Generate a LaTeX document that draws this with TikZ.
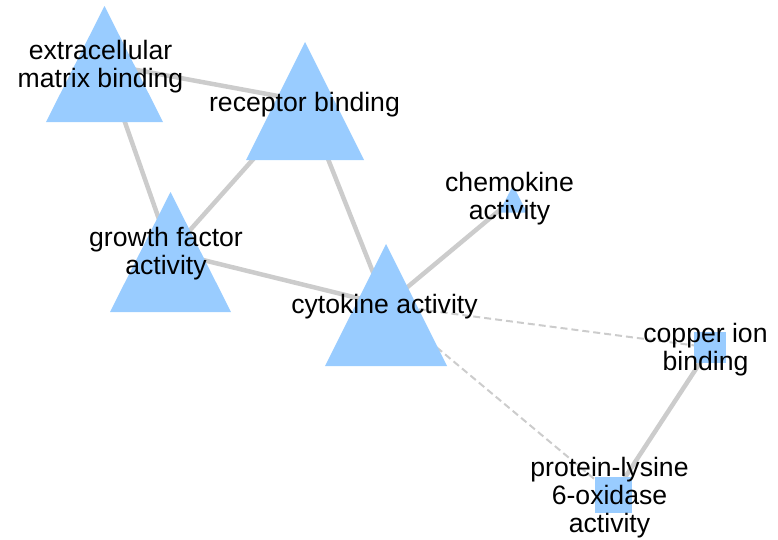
\documentclass[tikz,border=0pt]{standalone}
\usepackage{fontspec}
\setmainfont{Liberation Sans}
\definecolor{nodeblue}{HTML}{99CCFF}
\definecolor{edgegray}{HTML}{CCCCCC}
\begin{document}
\begin{tikzpicture}[x=1pt,y=-1pt,
  box/.style={draw=none,inner sep=0pt,outer sep=0pt},
  sq/.style={box,fill=nodeblue},
  edge/.style={draw=edgegray,line width=4.5pt},
  dashedge/.style={draw=edgegray,line width=2pt,dash pattern=on 7pt off 4pt},
  lab/.style={inner sep=0pt,outer sep=0pt,anchor=base,font=\fontsize{26.6}{28}\selectfont}]
\useasboundingbox (0,0) rectangle (778,539);
% node boxes
\node[box,minimum width=117pt,minimum height=116pt] (ecm) at (104.5,64) {};
\node[box,minimum width=118pt,minimum height=118pt] (rec) at (305,101) {};
\node[box,minimum width=121pt,minimum height=120pt] (gro) at (170.5,252) {};
\node[box,minimum width=122pt,minimum height=122pt] (cyt) at (386,305) {};
\node[box,minimum width=28pt,minimum height=27pt] (che) at (513,199) {};
\node[box,minimum width=32pt,minimum height=31pt] (cop) at (710,347.5) {};
\node[box,minimum width=37pt,minimum height=36pt] (pro) at (613.5,495) {};
% edges
\draw[edge] (ecm.center) -- (rec.center);
\draw[edge] (ecm.center) -- (gro.center);
\draw[edge] (rec.center) -- (gro.center);
\draw[edge] (rec.center) -- (cyt.center);
\draw[edge] (gro.center) -- (cyt.center);
\draw[edge] (che.center) -- (cyt.center);
\draw[dashedge] (cyt.center) -- (cop.center);
\draw[dashedge] (cyt.center) -- (pro.center);
\draw[edge] (cop.center) -- (pro.center);
% squares
\fill[nodeblue] (cop.north west) rectangle (cop.south east);
\fill[nodeblue] (pro.north west) rectangle (pro.south east);
% triangles
\foreach \n in {ecm,rec,gro,cyt,che}
  \fill[nodeblue] (\n.north) -- (\n.south west) -- (\n.south east) -- cycle;
% labels
\node[lab] (ecml) at (100.5,59) {\begin{tabular}[t]{@{}c@{}}extracellular\\matrix binding\end{tabular}};
\node[lab] (recl) at (304.5,111) {receptor binding};
\node[lab] (grol) at (166,246) {\begin{tabular}[t]{@{}c@{}}growth factor\\activity\end{tabular}};
\node[lab] (cytl) at (384.5,313) {cytokine activity};
\node[lab] (chel) at (509.5,191) {\begin{tabular}[t]{@{}c@{}}chemokine\\activity\end{tabular}};
\node[lab] (copl) at (705.5,342) {\begin{tabular}[t]{@{}c@{}}copper ion\\binding\end{tabular}};
\node[lab] (prol) at (609.5,476) {\begin{tabular}[t]{@{}c@{}}protein-lysine\\6-oxidase\\activity\end{tabular}};
\end{tikzpicture}
\end{document}
